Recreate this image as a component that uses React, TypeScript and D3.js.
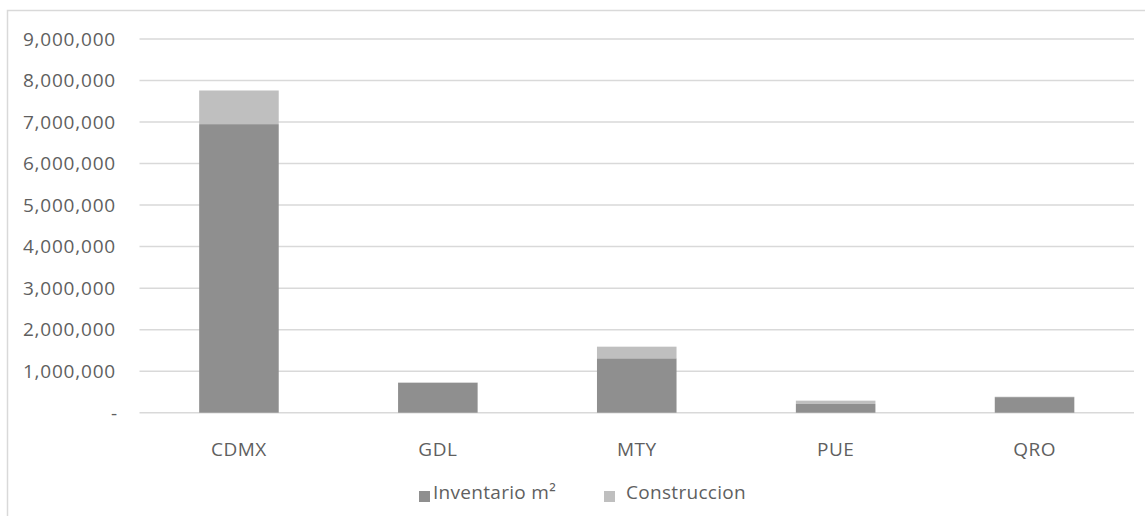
import React from "react";
import * as d3 from "d3";

const categories = ["CDMX", "GDL", "MTY", "PUE", "QRO"];
const inventario = [6950000, 720000, 1310000, 210000, 375000];
const construccion = [810000, 10000, 280000, 80000, 10000];
const yTicks = [0, 1000000, 2000000, 3000000, 4000000, 5000000, 6000000, 7000000, 8000000, 9000000];
const seriesNames = ["Inventario m²", "Construccion"];
const seriesColors = ["#8f8f8f", "#bfbfbf"];

const W = 1145;
const H = 516;
const FONT = "'Open Sans', sans-serif";

export default function App() {
  const x = d3.scaleBand<string>().domain(categories).range([139.5, 1134]).paddingInner(0.6).paddingOuter(0.3);
  const y = d3.scaleLinear().domain([0, 9000000]).range([412.7, 39]);
  const fmt = d3.format(",");

  const rows = categories.map((c, i) => ({ cat: c, inv: inventario[i], con: construccion[i] }));
  const stack = d3.stack<any>().keys(["inv", "con"])(rows);

  return (
    <svg width={W} height={H} style={{ position: "absolute", left: 0, top: 0, background: "#fff" }} fontFamily={FONT}>
      <rect x={7.5} y={10.5} width={W + 10} height={H + 10} fill="#fff" stroke="#d9d9d9" strokeWidth={1.5} />
      {yTicks.map((t) => (
        <g key={t}>
          <line x1={139.5} x2={1134} y1={y(t)} y2={y(t)} stroke="#d9d9d9" strokeWidth={1.5} />
          <text x={t === 0 ? 118 : 116} y={y(t)} dy="0.36em" textAnchor="end" fontSize={19} letterSpacing={0.8} fill="#5f5f5f">
            {t === 0 ? "-" : fmt(t)}
          </text>
        </g>
      ))}
      {stack.map((s, si) => (
        <g key={si} fill={seriesColors[si]}>
          {s.map((d: any, i: number) => (
            <rect key={i} x={x(categories[i])} width={x.bandwidth()} y={y(d[1])} height={Math.max(0, y(d[0]) - y(d[1]))} />
          ))}
        </g>
      ))}
      {categories.map((c) => (
        <text key={c} x={(x(c) as number) + x.bandwidth() / 2} y={456} textAnchor="middle" fontSize={19} letterSpacing={0.5} fill="#5f5f5f">
          {c}
        </text>
      ))}
      <g>
        <rect x={419} y={491} width={11} height={11} fill={seriesColors[0]} />
        <text x={433} y={499} fontSize={19} letterSpacing={0.3} fill="#5f5f5f">{seriesNames[0]}</text>
        <rect x={604} y={491} width={11} height={11} fill={seriesColors[1]} />
        <text x={626} y={499} fontSize={19} letterSpacing={0.3} fill="#5f5f5f">{seriesNames[1]}</text>
      </g>
    </svg>
  );
}
